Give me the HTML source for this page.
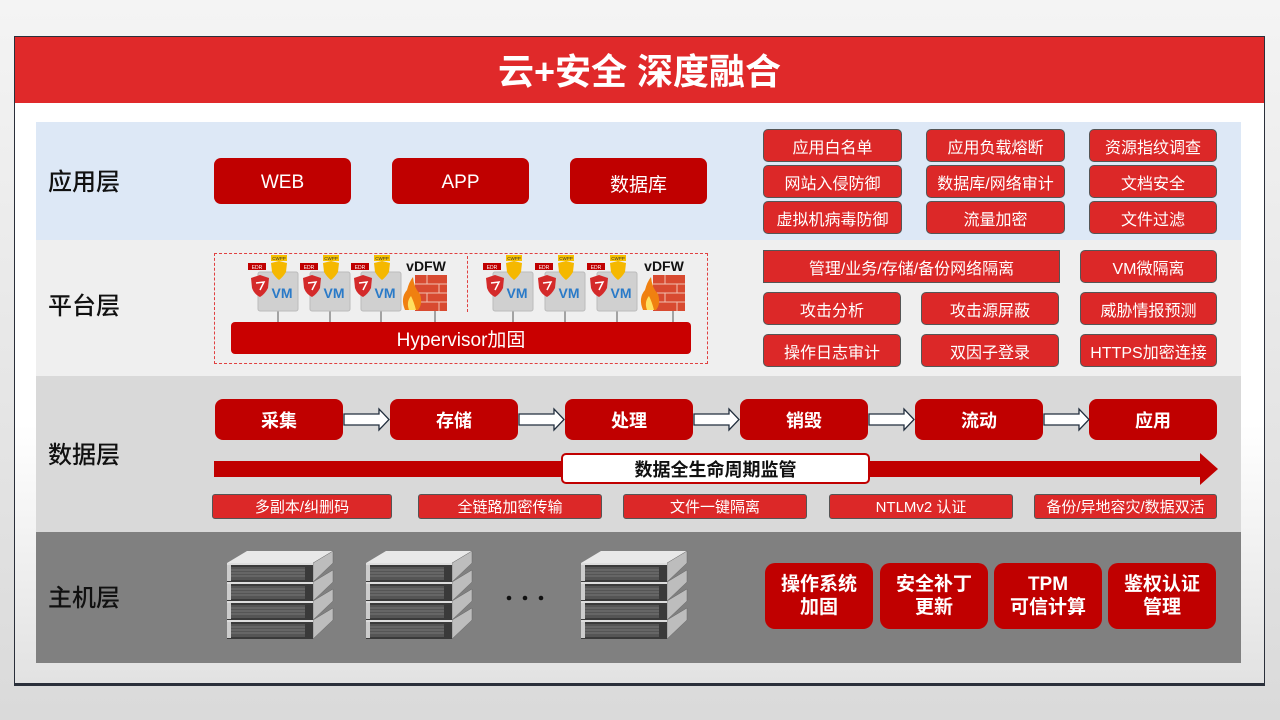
<!DOCTYPE html>
<html><head><meta charset="utf-8"><style>
*{margin:0;padding:0;box-sizing:border-box}
body{width:1280px;height:720px;position:relative;overflow:hidden;background:linear-gradient(#f4f4f4,#dadada);font-family:"Liberation Sans","Noto Sans CJK SC",sans-serif}
.a{position:absolute}
.frame{left:14px;top:36px;width:1251px;height:650px;border:1.5px solid #2a2f3a;border-bottom:3px solid #2a2f3a;background:linear-gradient(#ffffff 60%,#e2e2e2)}
.title{left:15px;top:37px;width:1249px;height:66px;background:#e0292a;color:#fff;font-size:36px;font-weight:bold;text-align:center;line-height:70px}
.lbl{font-size:24px;font-weight:500;color:#111;line-height:30px}
.b{position:absolute;color:#fff;text-align:center;display:flex;align-items:center;justify-content:center}
.big{background:#c00000;border-radius:7px;font-size:19px;padding-top:4px}
.sm{background:#dc2828;border:1.5px solid #555;border-radius:5px;font-size:16px}
.dk{background:#c00000;border-radius:8px;font-size:18px;font-weight:bold}
.db{background:#dc2828;border:1.5px solid #555;border-radius:3px;font-size:15px}
.hb{background:#c00000;border-radius:10px;font-size:19px;font-weight:bold;line-height:23px}
</style></head><body>
<div class="a frame"></div>
<div class="a title">云+安全 深度融合</div>

<div class="a" style="left:36px;top:122px;width:1205px;height:118px;background:#dde8f6"></div>
<div class="a" style="left:36px;top:240px;width:1205px;height:136px;background:#efefef"></div>
<div class="a" style="left:36px;top:376px;width:1205px;height:156px;background:#d9d9d9"></div>
<div class="a" style="left:36px;top:532px;width:1205px;height:131px;background:#808080"></div>

<div class="a lbl" style="left:48px;top:168px">应用层</div>
<div class="a lbl" style="left:48px;top:292px">平台层</div>
<div class="a lbl" style="left:48px;top:441px">数据层</div>
<div class="a lbl" style="left:48px;top:584px">主机层</div>

<div class="b big" style="left:214px;top:158px;width:137px;height:46px">WEB</div>
<div class="b big" style="left:392px;top:158px;width:137px;height:46px">APP</div>
<div class="b big" style="left:570px;top:158px;width:137px;height:46px">数据库</div>

<div class="b sm" style="left:763px;top:129px;width:139px;height:33px">应用白名单</div>
<div class="b sm" style="left:926px;top:129px;width:139px;height:33px">应用负载熔断</div>
<div class="b sm" style="left:1089px;top:129px;width:128px;height:33px">资源指纹调查</div>
<div class="b sm" style="left:763px;top:165px;width:139px;height:33px">网站入侵防御</div>
<div class="b sm" style="left:926px;top:165px;width:139px;height:33px">数据库/网络审计</div>
<div class="b sm" style="left:1089px;top:165px;width:128px;height:33px">文档安全</div>
<div class="b sm" style="left:763px;top:201px;width:139px;height:33px">虚拟机病毒防御</div>
<div class="b sm" style="left:926px;top:201px;width:139px;height:33px">流量加密</div>
<div class="b sm" style="left:1089px;top:201px;width:128px;height:33px">文件过滤</div>

<div class="b sm" style="left:763px;top:250px;width:297px;height:33px;border-radius:0">管理/业务/存储/备份网络隔离</div>
<div class="b sm" style="left:1080px;top:250px;width:137px;height:33px">VM微隔离</div>
<div class="b sm" style="left:763px;top:292px;width:138px;height:33px">攻击分析</div>
<div class="b sm" style="left:921px;top:292px;width:138px;height:33px">攻击源屏蔽</div>
<div class="b sm" style="left:1080px;top:292px;width:137px;height:33px">威胁情报预测</div>
<div class="b sm" style="left:763px;top:334px;width:138px;height:33px">操作日志审计</div>
<div class="b sm" style="left:921px;top:334px;width:138px;height:33px">双因子登录</div>
<div class="b sm" style="left:1080px;top:334px;width:137px;height:33px">HTTPS加密连接</div>

<!-- platform diagram -->
<div class="a" style="left:214px;top:253px;width:494px;height:111px;border:1.5px dashed #e04040"></div>
<div class="a" style="left:467px;top:256px;width:0;height:56px;border-left:1px dashed #e04040"></div>
<svg class="a" style="left:0;top:0" width="1280" height="720">
<g font-family="Liberation Sans,sans-serif">
<g id="vm">
<line x1="278" y1="311" x2="278" y2="323" stroke="#555"/>
<rect x="258" y="272" width="40" height="39" rx="2" fill="#d0d0d0" stroke="#bbb"/>
<text x="282" y="298" font-size="14" font-weight="bold" fill="#2a7ac8" text-anchor="middle">VM</text>
<path d="M251 278 L260 275 L269 278 L268 288 Q265 294 260 297 Q254 294 252 288 Z" fill="#d42a2a"/>
<path d="M256 283 L264 282 L260 290" stroke="#fff" stroke-width="1.5" fill="none"/>
<rect x="248" y="263" width="18" height="7" fill="#c00000"/>
<text x="257" y="269" font-size="5" fill="#fff" text-anchor="middle">EDR</text>
<rect x="271" y="255" width="16" height="6" fill="#f5c000"/>
<text x="279" y="260" font-size="4.5" fill="#333" text-anchor="middle">CWPP</text>
<path d="M271 263 L279 261 L287 263 L286 272 Q283 277 279 280 Q275 277 272 272 Z" fill="#f5b800"/>
</g>
<use href="#vm" x="52"/><use href="#vm" x="103"/>
<use href="#vm" x="235"/><use href="#vm" x="287"/><use href="#vm" x="339"/>
<g id="fw">
<line x1="435" y1="311" x2="435" y2="323" stroke="#555"/>
<text x="426" y="271" font-size="14" font-weight="bold" fill="#111" text-anchor="middle">vDFW</text>
<rect x="415" y="275" width="32" height="36" fill="#d84a30"/>
<g stroke="#f1c0b0" stroke-width="1"><line x1="415" y1="284" x2="447" y2="284"/><line x1="415" y1="293" x2="447" y2="293"/><line x1="415" y1="302" x2="447" y2="302"/><line x1="427" y1="275" x2="427" y2="284"/><line x1="439" y1="284" x2="439" y2="293"/><line x1="427" y1="293" x2="427" y2="302"/><line x1="439" y1="302" x2="439" y2="311"/></g>
<path d="M405 310 Q400 298 407 290 Q409 282 413 277 Q414 288 420 294 Q423 304 418 310 Z" fill="#f08010"/>
<path d="M409 310 Q406 302 411 296 Q414 302 416 310 Z" fill="#ffe060"/>
</g>
<use href="#fw" x="238"/>
</g>
</svg>
<div class="b" style="left:231px;top:322px;width:460px;height:32px;background:#c90000;border-radius:4px;font-size:19px">Hypervisor加固</div>

<!-- data layer -->
<div class="b dk" style="left:215px;top:399px;width:128px;height:41px">采集</div>
<div class="b dk" style="left:390px;top:399px;width:128px;height:41px">存储</div>
<div class="b dk" style="left:565px;top:399px;width:128px;height:41px">处理</div>
<div class="b dk" style="left:740px;top:399px;width:128px;height:41px">销毁</div>
<div class="b dk" style="left:915px;top:399px;width:128px;height:41px">流动</div>
<div class="b dk" style="left:1089px;top:399px;width:128px;height:41px">应用</div>
<svg class="a" style="left:0;top:0" width="1280" height="720">
<g fill="#fff" stroke="#222f3e" stroke-width="1.3">
<path d="M344 414 H379 V409 L389 419.5 L379 430 V425 H344 Z"/>
<path d="M519 414 H554 V409 L564 419.5 L554 430 V425 H519 Z"/>
<path d="M694 414 H729 V409 L739 419.5 L729 430 V425 H694 Z"/>
<path d="M869 414 H904 V409 L914 419.5 L904 430 V425 H869 Z"/>
<path d="M1044 414 H1079 V409 L1089 419.5 L1079 430 V425 H1044 Z"/>
</g>
<path d="M214 461 H1200 V453 L1218 469 L1200 485 V477 H214 Z" fill="#c00000"/>
</svg>
<div class="b" style="left:561px;top:453px;width:309px;height:31px;background:#fff;border:2px solid #c00000;border-radius:5px;color:#111;font-size:18px;font-weight:bold">数据全生命周期监管</div>
<div class="b db" style="left:212px;top:494px;width:180px;height:25px">多副本/纠删码</div>
<div class="b db" style="left:418px;top:494px;width:184px;height:25px">全链路加密传输</div>
<div class="b db" style="left:623px;top:494px;width:184px;height:25px">文件一键隔离</div>
<div class="b db" style="left:829px;top:494px;width:184px;height:25px">NTLMv2 认证</div>
<div class="b db" style="left:1034px;top:494px;width:183px;height:25px">备份/异地容灾/数据双活</div>

<!-- host layer -->
<svg class="a" style="left:0;top:0" width="1280" height="720">
<defs>
<g id="srv">
<path d="M0 12 L20 0 H106 L86 12 Z" fill="#e8e8e8"/>
<g id="u">
<path d="M86 12 L106 0 V12 L86 31 Z" fill="#bdbdbd" stroke="#666" stroke-width="0.5"/>
<rect x="0" y="12" width="86" height="19" fill="#3a3a3a"/>
<rect x="0" y="12" width="86" height="2" fill="#ddd"/>
<rect x="4" y="16" width="74" height="13" fill="#555"/>
<g stroke="#999" stroke-width="0.6"><line x1="4" y1="19" x2="78" y2="19"/><line x1="4" y1="22" x2="78" y2="22"/><line x1="4" y1="25" x2="78" y2="25"/></g>
<rect x="0" y="14" width="4" height="16" fill="#ccc"/>
</g>
<use href="#u" y="19"/><use href="#u" y="38"/><use href="#u" y="57"/>
</g>
</defs>
<use href="#srv" x="227" y="551"/>
<use href="#srv" x="366" y="551"/>
<use href="#srv" x="581" y="551"/>
<circle cx="509" cy="598" r="2.3" fill="#111"/><circle cx="525" cy="598" r="2.3" fill="#111"/><circle cx="541" cy="598" r="2.3" fill="#111"/>
</svg>
<div class="b hb" style="left:765px;top:563px;width:108px;height:66px">操作系统<br>加固</div>
<div class="b hb" style="left:880px;top:563px;width:108px;height:66px">安全补丁<br>更新</div>
<div class="b hb" style="left:994px;top:563px;width:108px;height:66px">TPM<br>可信计算</div>
<div class="b hb" style="left:1108px;top:563px;width:108px;height:66px">鉴权认证<br>管理</div>
</body></html>
